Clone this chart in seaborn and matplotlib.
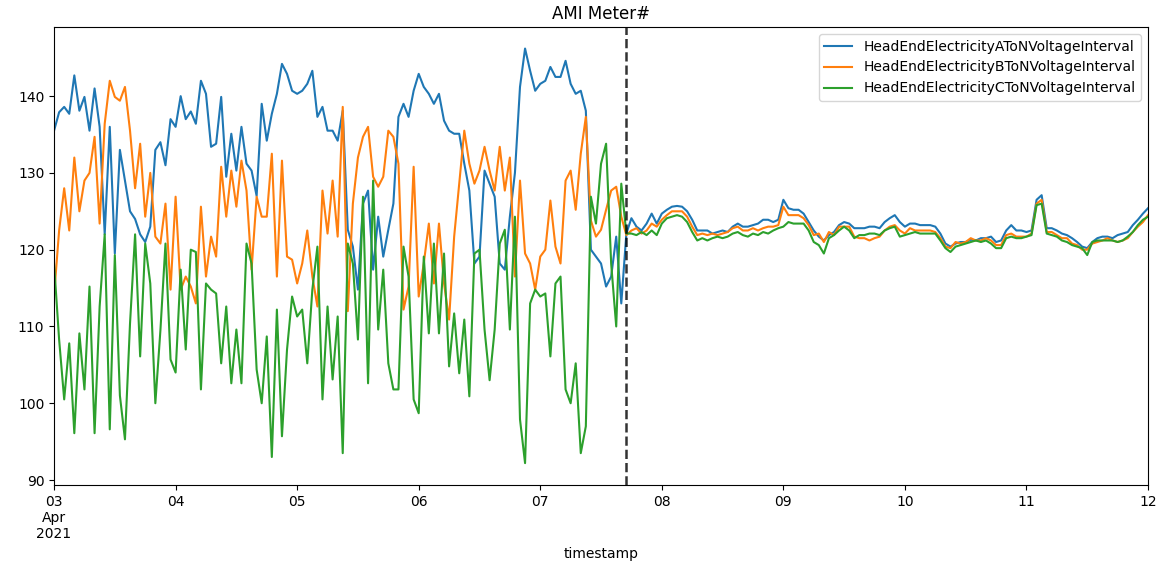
import pandas as pd
import matplotlib.pyplot as plt
import seaborn as sns

# Hourly readings, Apr 3 00:00 -> Apr 12 00:00
timestamps = pd.date_range('2021-04-03 00:00', '2021-04-12 00:00', freq='h')
cutoff = pd.Timestamp('2021-04-07 16:50')

name_a = 'HeadEndElectricityAToNVoltageInterval'
name_b = 'HeadEndElectricityBToNVoltageInterval'
name_c = 'HeadEndElectricityCToNVoltageInterval'

volt_a = [
    135.5, 137.9, 138.6, 137.7, 142.7, 138.1, 139.9, 135.5, 141.0, 136.0, 122.0, 136.0,
    119.5, 133.0, 129.0, 125.0, 124.0, 122.0, 121.0, 123.0, 133.0, 134.0, 131.0, 137.0,  # 03
    136.0, 140.0, 137.0, 138.0, 136.4, 142.0, 140.3, 133.4, 133.8, 139.9, 129.5, 135.1,
    130.3, 136.0, 131.2, 130.3, 127.0, 139.0, 134.2, 137.7, 140.3, 144.2, 142.9, 140.7,  # 04
    140.3, 140.7, 141.6, 143.3, 137.3, 138.6, 135.5, 135.5, 134.2, 138.1, 122.6, 120.4,
    114.8, 126.0, 127.7, 117.4, 124.3, 119.1, 122.6, 126.0, 137.3, 139.0, 137.3, 140.7,  # 05
    142.9, 141.2, 140.3, 139.0, 140.3, 136.8, 135.5, 135.1, 135.1, 131.2, 127.7, 118.2,
    119.1, 130.3, 128.6, 126.9, 118.2, 117.4, 124.3, 130.0, 141.2, 146.2, 143.3, 140.7,  # 06
    141.6, 142.0, 143.8, 142.5, 142.5, 144.6, 141.6, 140.3, 140.7, 138.1, 120.0, 119.1,
    118.2, 115.2, 116.5, 121.7, 113.0, 122.1, 124.1, 123.0, 122.5, 123.4, 124.7, 123.4,  # 07
    124.7, 125.2, 125.6, 125.7, 125.6, 125.0, 123.9, 122.5, 122.5, 122.5, 122.1, 122.3,
    122.5, 122.3, 123.0, 123.4, 123.0, 123.0, 123.2, 123.4, 123.9, 123.9, 123.6, 123.9,  # 08
    126.5, 125.4, 125.2, 125.2, 124.7, 123.6, 122.5, 121.7, 121.2, 121.9, 122.3, 123.2,
    123.6, 123.4, 122.8, 122.8, 122.8, 123.0, 123.0, 122.8, 123.6, 124.1, 124.5, 123.6,  # 09
    123.0, 123.4, 123.4, 123.2, 123.2, 123.2, 123.0, 122.1, 120.8, 120.4, 120.8, 121.0,
    121.0, 121.3, 121.2, 121.5, 121.5, 121.7, 121.0, 121.2, 122.5, 123.2, 122.5, 122.5,  # 10
    122.3, 122.5, 126.5, 127.1, 122.8, 122.8, 122.5, 122.1, 121.9, 121.5, 121.0, 120.4,
    120.2, 121.0, 121.5, 121.7, 121.7, 121.5, 121.9, 122.1, 122.3, 123.2, 123.9, 124.7,  # 11
    125.4,
]
volt_b = [
    114.0, 122.5, 128.0, 122.5, 132.0, 125.0, 129.0, 130.0, 134.7, 123.4, 136.4, 142.0,
    139.9, 139.4, 141.2, 135.5, 128.0, 133.8, 124.3, 130.0, 121.7, 120.8, 126.0, 114.8,
    126.9, 114.8, 116.5, 115.2, 113.0, 125.6, 116.5, 121.7, 119.1, 130.8, 124.3, 130.3,
    125.6, 131.6, 127.7, 117.4, 126.9, 124.3, 124.3, 132.5, 116.5, 131.6, 119.1, 118.7,
    115.6, 118.2, 122.5, 116.5, 112.6, 127.7, 122.1, 129.0, 121.7, 138.6, 112.0, 126.0,
    132.0, 134.7, 136.0, 129.5, 128.2, 129.5, 135.5, 134.7, 131.2, 112.2, 115.2, 130.8,
    113.9, 118.2, 123.4, 115.6, 123.4, 115.6, 110.9, 121.7, 128.6, 135.5, 131.2, 128.6,
    130.3, 133.4, 130.3, 127.7, 133.4, 127.7, 132.0, 116.5, 129.0, 119.5, 118.2, 114.8,
    119.1, 120.0, 126.4, 120.4, 118.2, 129.0, 130.3, 125.2, 132.5, 137.3, 123.8, 121.7,
    122.6, 125.2, 127.7, 128.2, 124.3, 121.9, 122.5, 122.8, 122.1, 122.5, 123.4, 123.0,
    123.9, 124.5, 125.0, 125.0, 125.0, 124.3, 123.0, 121.9, 122.1, 121.9, 122.1, 121.9,
    122.1, 122.3, 122.8, 123.0, 122.5, 122.5, 122.8, 122.5, 122.8, 123.0, 123.0, 123.2,
    125.6, 124.5, 124.5, 124.5, 124.1, 123.2, 121.9, 122.1, 121.0, 122.3, 121.9, 123.0,
    123.0, 123.0, 121.7, 121.5, 121.5, 121.2, 121.5, 121.7, 122.5, 123.0, 123.2, 122.5,
    122.1, 122.8, 122.5, 122.5, 122.5, 122.5, 122.3, 121.5, 120.4, 120.2, 121.0, 120.8,
    121.0, 121.5, 121.2, 121.2, 121.5, 121.2, 120.6, 120.6, 121.9, 122.1, 121.7, 121.7,
    121.7, 122.1, 126.0, 126.5, 122.3, 122.3, 121.9, 121.5, 121.5, 120.8, 120.6, 120.0,
    120.0, 120.8, 121.0, 121.2, 121.5, 121.2, 121.0, 121.2, 121.5, 122.3, 123.0, 123.6,
    124.5,
]
volt_c = [
    118.2, 108.3, 100.5, 107.8, 96.1, 109.1, 101.8, 115.2, 96.1, 112.6, 122.0, 96.6,
    119.3, 101.0, 95.3, 110.4, 122.0, 106.1, 120.8, 115.6, 100.0, 109.5, 120.8, 105.7,
    104.0, 117.4, 107.0, 120.0, 119.7, 101.8, 115.6, 114.8, 114.3, 105.2, 112.6, 102.6,
    109.6, 102.6, 120.8, 118.2, 104.4, 100.0, 108.7, 93.0, 112.2, 95.7, 107.0, 113.9,
    111.3, 112.2, 105.2, 114.8, 120.4, 100.5, 112.6, 103.1, 111.3, 93.5, 120.8, 118.2,
    108.3, 126.9, 102.6, 129.0, 109.6, 117.4, 105.2, 101.8, 101.8, 120.4, 116.5, 100.5,
    98.7, 119.1, 109.1, 120.8, 109.1, 119.5, 104.8, 111.7, 103.9, 110.9, 100.9, 119.5,
    120.0, 109.6, 103.0, 109.6, 120.8, 122.6, 109.6, 124.3, 97.9, 92.2, 113.0, 114.8,
    113.9, 114.3, 106.1, 115.6, 116.5, 101.8, 100.0, 105.2, 93.5, 97.0, 126.9, 123.4,
    131.2, 133.8, 118.2, 110.0, 128.6, 122.1, 122.1, 121.9, 122.3, 121.9, 122.5, 121.9,
    123.4, 124.1, 124.3, 124.5, 124.3, 123.6, 122.3, 121.2, 121.5, 121.2, 121.5, 121.7,
    121.5, 121.7, 122.1, 122.3, 121.9, 121.7, 122.1, 121.9, 122.3, 122.1, 122.5, 122.8,
    123.0, 123.6, 123.4, 123.4, 123.4, 122.5, 121.0, 120.6, 119.5, 121.5, 121.9, 122.5,
    123.0, 122.5, 121.5, 121.9, 121.9, 122.1, 122.1, 121.9, 122.5, 122.8, 123.0, 121.7,
    121.9, 122.1, 122.3, 122.1, 122.1, 122.1, 122.1, 121.2, 120.2, 119.7, 120.4, 120.6,
    120.8, 121.0, 121.2, 121.0, 121.2, 120.8, 120.2, 120.2, 121.5, 121.7, 121.5, 121.5,
    121.7, 121.9, 125.8, 126.0, 122.1, 121.9, 121.7, 121.2, 121.0, 120.6, 120.4, 120.2,
    119.3, 121.0, 121.2, 121.2, 121.2, 121.2, 121.0, 121.2, 121.7, 122.3, 123.2, 123.9,
    124.3,
]

day_ticks = pd.date_range('2021-04-03', '2021-04-12', freq='D')
day_labels = ['03\nApr\n2021', '04', '05', '06', '07', '08', '09', '10', '11', '12']

# Long format for seaborn
df = pd.DataFrame({'timestamp': timestamps, name_a: volt_a, name_b: volt_b, name_c: volt_c})
long_df = df.melt(id_vars='timestamp', var_name='series', value_name='voltage')

plt.rcParams['font.size'] = 10
fig, ax = plt.subplots(figsize=(11.7, 5.63), dpi=100)
fig.subplots_adjust(left=0.0462, right=0.9812, top=0.952, bottom=0.1385)

sns.lineplot(data=long_df, x='timestamp', y='voltage', hue='series', linewidth=1.5, ax=ax)
ax.axvline(cutoff, color='k', linestyle='--', linewidth=1.8, alpha=0.8)

ax.set_xlim(timestamps[0], timestamps[-1])
ax.set_ylim(89.35, 149)
ax.set_xticks(day_ticks)
ax.set_xticklabels(day_labels)
ax.set_xlabel('timestamp')
ax.set_ylabel('')
ax.set_title('AMI Meter#')
sns.move_legend(ax, 'upper right', title=None)

fig.savefig('out.png')
